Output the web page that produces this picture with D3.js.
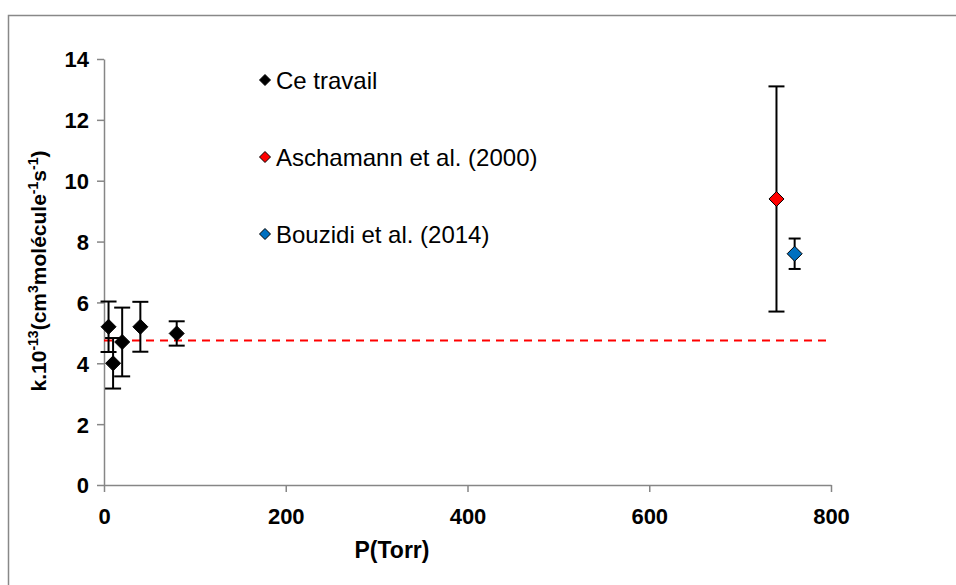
<!DOCTYPE html>
<html><head><meta charset="utf-8">
<script src="https://cdn.jsdelivr.net/npm/d3@7"></script>
<style>body{margin:0;background:#fff}svg{display:block}text{font-family:"Liberation Sans",Arial,sans-serif}</style>
</head><body>
<svg id="c" width="956" height="585"></svg>
<script>
const xTicks = [0, 200, 400, 600, 800];
const yTicks = [0, 2, 4, 6, 8, 10, 12, 14];
const ceP = [5, 10, 20, 40, 80];
const ceK = [5.2, 4.0, 4.7, 5.2, 4.98];
const ceErr = [0.83, 0.83, 1.13, 0.82, 0.4];
const aschP = [740], aschK = [9.4], aschErr = [3.7];
const bouzP = [760], bouzK = [7.6], bouzErr = [0.5];
const meanK = 4.75;
const legendNames = ["Ce travail", "Aschamann et al. (2000)", "Bouzidi et al. (2014)"];
const legendColors = ["#000000", "#ff0000", "#0070c0"];

const svg = d3.select("#c");
svg.append("path").attr("d","M8.5,585 V15.5 H956").attr("fill","none").attr("stroke","#888").attr("stroke-width",1.5);

const x = d3.scaleLinear().domain([0, 800]).range([104, 831]);
const y = d3.scaleLinear().domain([0, 14]).range([485, 59]);

const ax = svg.append("g").attr("transform","translate(0,485)")
  .call(d3.axisBottom(x).tickValues(xTicks).tickSize(7).tickSizeOuter(0));
const ay = svg.append("g").attr("transform","translate(104,0)")
  .call(d3.axisLeft(y).tickValues(yTicks).tickSize(7).tickSizeOuter(0).tickPadding(8));
[ax, ay].forEach(g => {
  g.selectAll("path,line").attr("stroke","#868686").attr("stroke-width",1.5);
  g.selectAll("text").attr("font-size",22).attr("font-weight","bold").attr("fill","#000")
   .attr("font-family","'Liberation Sans',Arial,sans-serif");
});
ax.selectAll("text").attr("y",39).attr("dy",0);
ay.selectAll("text").attr("dy","0.36em");

svg.append("text").attr("x",392).attr("y",558).attr("text-anchor","middle")
  .attr("font-size",23).attr("font-weight","bold").text("P(Torr)");

const yt = svg.append("text").attr("transform","translate(46,271) rotate(-90)").attr("text-anchor","middle")
  .attr("font-size",21).attr("font-weight","bold");
yt.append("tspan").text("k.10");
yt.append("tspan").attr("dy",-8).attr("font-size",14).text("-13");
yt.append("tspan").attr("dy",8).text("(cm");
yt.append("tspan").attr("dy",-8).attr("font-size",14).text("3");
yt.append("tspan").attr("dy",8).text("molécule");
yt.append("tspan").attr("dy",-8).attr("font-size",14).text("-1");
yt.append("tspan").attr("dy",8).text("s");
yt.append("tspan").attr("dy",-8).attr("font-size",14).text("-1");
yt.append("tspan").attr("dy",8).text(")");

svg.append("line").attr("x1",x(0)).attr("x2",x(800)).attr("y1",y(meanK)).attr("y2",y(meanK))
  .attr("stroke","#ff0000").attr("stroke-width",2).attr("stroke-dasharray","8,6");

function diam(s){ return `M0,${-s}L${s},0L0,${s}L${-s},0Z`; }

function series(P, K, E, color, cap){
  const data = P.map((p,i)=>({p, k:K[i], e:E[i]}));
  const g = svg.append("g");
  const eb = g.selectAll("g.eb").data(data).join("g");
  eb.append("line").attr("x1",d=>x(d.p)).attr("x2",d=>x(d.p)).attr("y1",d=>y(d.k+d.e)).attr("y2",d=>y(d.k-d.e))
    .attr("stroke","#000").attr("stroke-width",2);
  eb.append("line").attr("x1",d=>x(d.p)-cap).attr("x2",d=>x(d.p)+cap).attr("y1",d=>y(d.k+d.e)).attr("y2",d=>y(d.k+d.e))
    .attr("stroke","#000").attr("stroke-width",2);
  eb.append("line").attr("x1",d=>x(d.p)-cap).attr("x2",d=>x(d.p)+cap).attr("y1",d=>y(d.k-d.e)).attr("y2",d=>y(d.k-d.e))
    .attr("stroke","#000").attr("stroke-width",2);
  g.selectAll("path.m").data(data).join("path").attr("class","m")
    .attr("transform",d=>`translate(${x(d.p)},${y(d.k)})`).attr("d",diam(7.5))
    .attr("fill",color).attr("stroke","#000").attr("stroke-width",1);
}
series(ceP, ceK, ceErr, "#000", 8);
series(aschP, aschK, aschErr, "#ff0000", 8);
series(bouzP, bouzK, bouzErr, "#0070c0", 6);

const legY = [80, 157, 234];
const lg = svg.append("g").selectAll("g").data(legendNames).join("g")
  .attr("transform",(d,i)=>`translate(265,${legY[i]})`);
lg.append("path").attr("d",diam(5.5)).attr("fill",(d,i)=>legendColors[i]).attr("stroke","#000").attr("stroke-width",1);
lg.append("text").attr("x",11).attr("dy","0.36em").attr("font-size",24).text(d=>d);
</script>
</body></html>
